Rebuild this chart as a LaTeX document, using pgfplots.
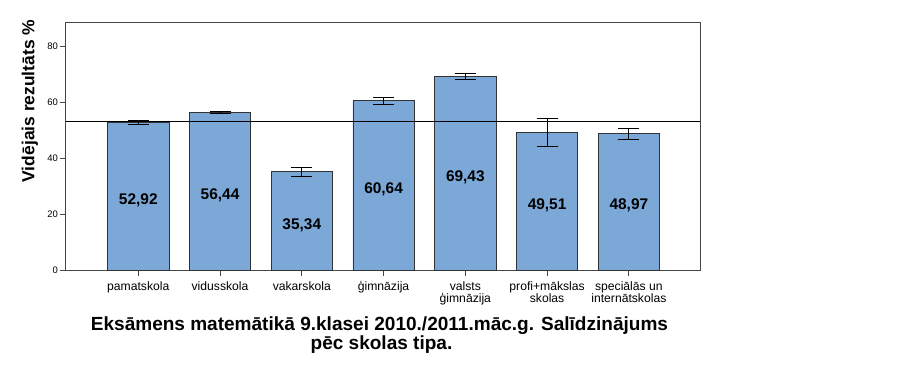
\documentclass[border=0pt]{standalone}
\usepackage{fontspec}
\setmainfont{Liberation Sans}
\usepackage{pgfplots}
\usepackage{pgfplotstable}
\pgfplotsset{compat=1.18}
\definecolor{barblue}{RGB}{123,168,214}
\definecolor{axgray}{RGB}{70,70,70}
\newcommand\sr{\rule{0pt}{11bp}}
\pgfplotstableread{
x y err lab
0 52.92 0.60 23.5
1 56.44 0.35 25.3
2 35.34 1.50 14.6
3 60.64 1.15 27.4
4 69.43 0.95 31.8
5 49.51 4.95 21.7
6 48.97 1.95 21.7
}\datatable
\begin{document}
\begin{tikzpicture}
\path[use as bounding box] (0,0) rectangle (922bp,366bp);
\begin{axis}[
  at={(65.5bp,95.3bp)}, anchor=south west,
  scale only axis, width=634.5bp, height=248.7bp,
  xmin=-0.89, xmax=6.87, ymin=0, ymax=88.8,
  xtick=data,
  xticklabels={\sr pamatskola, \sr vidusskola, \sr vakarskola, \sr ģimnāzija, {\sr valsts\\ģimnāzija}, {\sr profi+mākslas\\skolas}, {\sr speciālās un\\internātskolas}},
  ytick={0,20,40,60,80},
  tick pos=left, tick align=outside, major tick length=5bp,
  axis line style={axgray, line width=0.8bp},
  tick style={axgray, line width=0.8bp},
  /pgf/number format/assume math mode=true,
  yticklabel style={font=\fontsize{9.5}{11}\selectfont, xshift=1bp},
  xticklabel style={font=\fontsize{12.2}{12.3}\selectfont, align=center, yshift=-0.5bp},
  ylabel={\textbf{Vidējais rezultāts \%}},
  ylabel style={font=\fontsize{17.5}{20}\selectfont, at={(axis description cs:-0.056,0.682)}, anchor=center},
  clip=false,
]
\addplot[ybar, bar width=0.75, fill=barblue, draw=black!80, line width=0.8bp,
  error bars/.cd, y dir=both, y explicit,
  error bar style={black, line width=0.8bp},
  error mark options={black, line width=0.8bp, rotate=90, mark size=10.5bp}]
  table[x=x, y=y, y error=err] \datatable;
\addplot[black, line width=0.8bp, mark=none] coordinates {(-0.89,53.2) (6.87,53.2)};
\addplot[draw=none, mark=none, point meta=explicit,
  nodes near coords={\pgfmathprintnumber[fixed, fixed zerofill, precision=2, use comma]{\pgfplotspointmeta}},
  every node near coord/.style={anchor=base, font=\fontsize{15.5}{18}\selectfont\bfseries, text=black}]
  table[x=x, y=lab, meta=y] \datatable;
\end{axis}
\node[anchor=base, font=\fontsize{19.1}{19}\selectfont\bfseries] at (379.5bp,35.3bp) {Eksāmens matemātikā 9.klasei 2010./2011.māc.g. Salīdzinājums};
\node[anchor=base, font=\fontsize{19.1}{19}\selectfont\bfseries] at (381.5bp,17bp) {pēc skolas tipa.};
\end{tikzpicture}
\end{document}
